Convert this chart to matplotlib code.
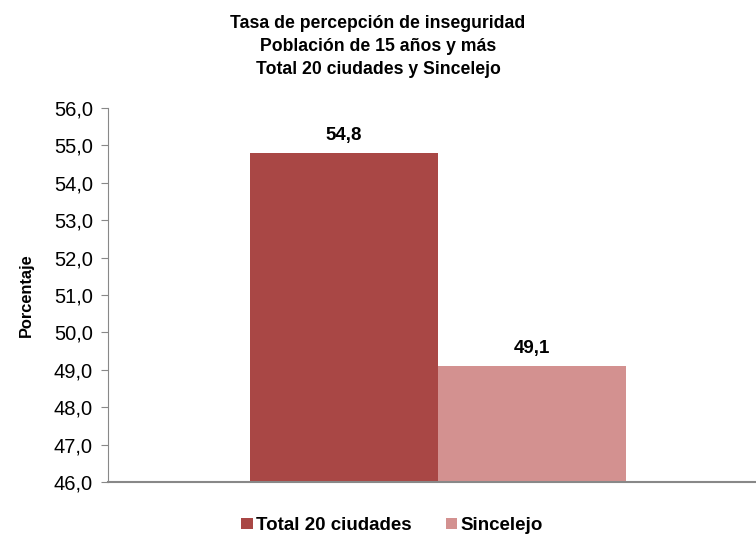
import matplotlib.pyplot as plt
from matplotlib.ticker import FuncFormatter

plt.rcParams['font.family'] = ['Liberation Sans', 'DejaVu Sans']

series = ["Total 20 ciudades", "Sincelejo"]
values = [54.8, 49.1]
colors = ["#A94745", "#D39190"]
y_ticks = [46, 47, 48, 49, 50, 51, 52, 53, 54, 55, 56]

fig = plt.figure(figsize=(7.56, 5.36), dpi=100)
ax = fig.add_axes([0.1429, 0.1007, 0.873, 0.6978])

width = 0.285
offsets = [-width / 2, width / 2]
for name, val, col, off in zip(series, values, colors, offsets):
    ax.bar(off, val - 46, width=width, bottom=46, color=col, label=name)
    ax.text(off, val + 0.25, f"{val:.1f}".replace(".", ","), ha="center", va="bottom",
            fontsize=13.5, fontweight="bold")

ax.set_xlim(-0.5, 0.5)
ax.set_ylim(46, 56)
ax.set_yticks(y_ticks)
ax.yaxis.set_major_formatter(FuncFormatter(lambda v, p: f"{v:.1f}".replace(".", ",")))
ax.tick_params(axis="y", labelsize=14.5, length=5, color="#888888", direction="out", pad=6)
ax.set_xticks([])
for s in ["top", "right"]:
    ax.spines[s].set_visible(False)
ax.spines["left"].set_color("#888888")
ax.spines["bottom"].set_color("#888888")
ax.spines["bottom"].set_linewidth(1.5)
ax.set_ylabel("Porcentaje", fontsize=11.8, fontweight="bold", labelpad=14)

fig.suptitle("Tasa de percepción de inseguridad\nPoblación de 15 años y más\nTotal 20 ciudades y Sincelejo",
             y=0.972, fontsize=12.7, fontweight="bold", linespacing=1.45)

fig.legend(loc="lower center", bbox_to_anchor=(0.519, -0.028), ncol=2, frameon=False,
           prop={"size": 13.5, "weight": "bold"}, handlelength=0.6, handleheight=0.6,
           columnspacing=1.8, handletextpad=0.2)

fig.savefig("out.png", dpi=100)
